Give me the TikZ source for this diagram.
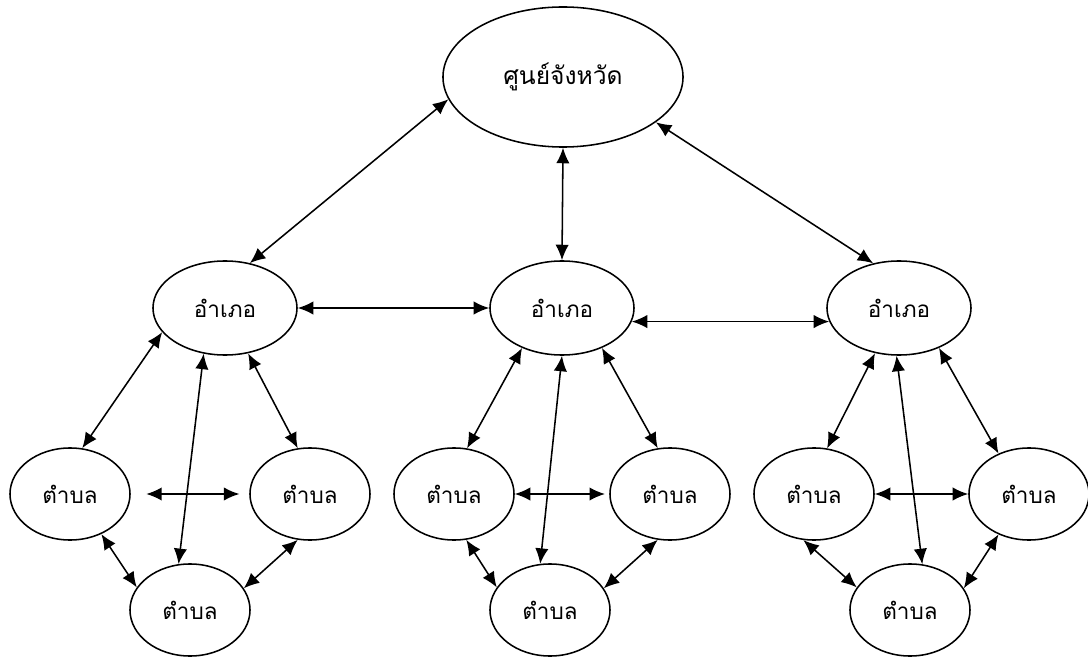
\documentclass[tikz,border=0pt]{standalone}
\usepackage{fontspec}
\newfontfamily\thaifont[Script=Thai]{Loma}
\usetikzlibrary{shapes.geometric,arrows.meta}

\begin{document}
\begin{tikzpicture}[
        x=0.025cm, y=-0.025cm,
        every node/.style={ellipse,draw,line width=1.1pt,inner sep=0pt,font=\thaifont\fontsize{16}{19}\selectfont},
        prov/.style={minimum width=6cm,minimum height=3.5cm,font=\thaifont\fontsize{17.5}{21}\selectfont},
        dist/.style={minimum width=3.6cm,minimum height=2.35cm},
        tamb/.style={minimum width=3cm,minimum height=2.3cm},
        link/.style={line width=1.1pt,{Latex[length=11pt,width=9.5pt]}-{Latex[length=11pt,width=9.5pt]}}
    ]
    \useasboundingbox (0,0) rectangle (1088,657);

    \node[prov] (P) at (563,77) {ศูนย์จังหวัด};

    \node[dist] (d1) at (225,308) {อำเภอ};
    \node[dist] (d2) at (562,308) {อำเภอ};
    \node[dist] (d3) at (899,308) {อำเภอ};

    \node[tamb] (t1L) at (70,494)   {ตำบล};
    \node[tamb] (t1R) at (310,494)  {ตำบล};
    \node[tamb] (t1B) at (190,610)  {ตำบล};
    \node[tamb] (t2L) at (454,494)  {ตำบล};
    \node[tamb] (t2R) at (670,494)  {ตำบล};
    \node[tamb] (t2B) at (550,610)  {ตำบล};
    \node[tamb] (t3L) at (814,494)  {ตำบล};
    \node[tamb] (t3R) at (1029,494) {ตำบล};
    \node[tamb] (t3B) at (910,610)  {ตำบล};

    % province to districts
    \draw[link] (P.191.7) -- (d1.61.5);
    \draw[link] (P.270)   -- (d2.90);
    \draw[link] (P.-26.3) -- (d3.120);
    \draw[link] (d1.east) -- (d2.west);
    \draw[link] (d2.-11)  -- (d3.191);

    % first district
    \draw[link] (d1.201)  -- (t1L.75);
    \draw[link] (d1.245)  -- (t1B.104);
    \draw[link] (d1.-63)  -- (t1R.105.5);
    \draw[link,shorten <=11pt,shorten >=7pt] (t1L.east) -- (t1R.west);
    \draw[link] (t1L.-52) -- (t1B.157);
    \draw[link] (t1R.255) -- (t1B.22);

    % second district
    \draw[link] (d2.225)  -- (t2L.74.5);
    \draw[link] (d2.-90)  -- (t2B.102);
    \draw[link] (d2.-45.6) -- (t2R.105.5);
    \draw[link,shorten >=3pt] (t2L.east) -- (t2R.west);
    \draw[link] (t2L.-75) -- (t2B.157);
    \draw[link] (t2R.255) -- (t2B.22);

    % third district
    \draw[link] (d3.242.5) -- (t3L.74.5);
    \draw[link] (d3.267.7) -- (t3B.75.7);
    \draw[link] (d3.-45.6) -- (t3R.127.5);
    \draw[link] (t3L.east) -- (t3R.west);
    \draw[link] (t3L.257)  -- (t3B.157);
    \draw[link] (t3R.233)  -- (t3B.22);
\end{tikzpicture}
\end{document}
